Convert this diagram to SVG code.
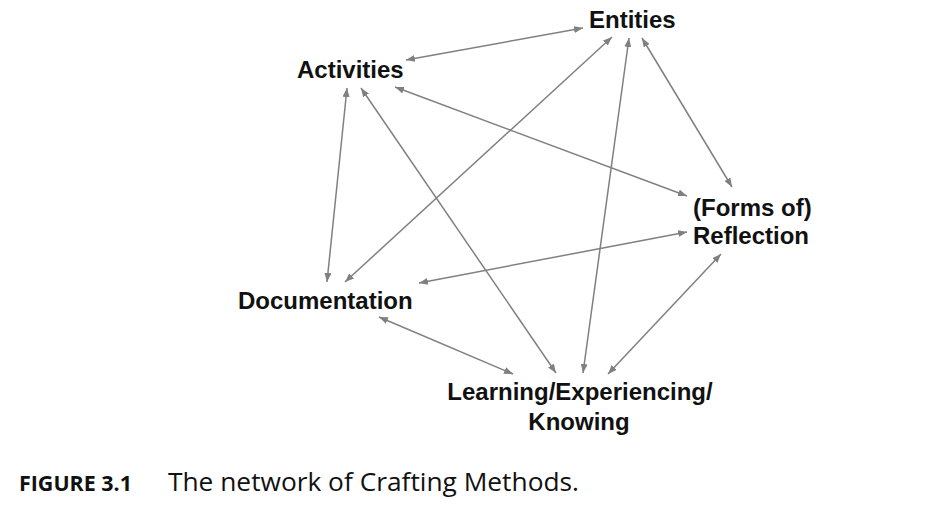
<svg xmlns="http://www.w3.org/2000/svg" width="928" height="520" viewBox="0 0 928 520">
  <style>
    .lbl { font-family: "Liberation Sans", Arial, sans-serif; font-weight: bold; font-size: 24px; fill: #111; }
    .edge { stroke: #808080; stroke-width: 1.5; fill: none; marker-start: url(#ah); marker-end: url(#ah); }
    .capb { font-family: "Open Sans", "Noto Sans", sans-serif; font-weight: bold; font-size: 21px; fill: #111; }
    .cap { font-family: "Open Sans", "Noto Sans", sans-serif; font-size: 26px; fill: #111; }
  </style>
  <defs>
    <marker id="ah" viewBox="0 0 9 7" refX="9" refY="3.5" markerWidth="9" markerHeight="7" markerUnits="userSpaceOnUse" orient="auto-start-reverse">
      <path d="M0,0 L9,3.5 L0,7 z" fill="#808080"/>
    </marker>
  </defs>
  <rect width="928" height="520" fill="#fff"/>
  <g id="connectors">
    <line class="edge" x1="406" y1="60" x2="583" y2="28"/>
    <line class="edge" x1="395" y1="87" x2="687" y2="196"/>
    <line class="edge" x1="347" y1="88" x2="327" y2="282"/>
    <line class="edge" x1="361" y1="88" x2="556" y2="373"/>
    <line class="edge" x1="612" y1="37" x2="345" y2="282"/>
    <line class="edge" x1="629" y1="38" x2="583" y2="373"/>
    <line class="edge" x1="642" y1="38" x2="732" y2="187"/>
    <line class="edge" x1="419" y1="283" x2="687" y2="232"/>
    <line class="edge" x1="379" y1="317" x2="513" y2="374"/>
    <line class="edge" x1="721" y1="254" x2="608" y2="374"/>
  </g>
  <g id="entities"><text class="lbl" x="589" y="28">Entities</text></g>
  <g id="activities"><text class="lbl" x="297" y="78">Activities</text></g>
  <g id="reflection">
    <text class="lbl" x="693" y="216">(Forms of)</text>
    <text class="lbl" x="693" y="244">Reflection</text>
  </g>
  <g id="documentation"><text class="lbl" x="238" y="309">Documentation</text></g>
  <g id="learning">
    <text class="lbl" x="580" y="400" text-anchor="middle">Learning/Experiencing/</text>
    <text class="lbl" x="579" y="430" text-anchor="middle">Knowing</text>
  </g>
  <g id="caption">
    <text class="capb" x="19" y="491" textLength="113" lengthAdjust="spacingAndGlyphs">FIGURE 3.1</text>
    <text class="cap" x="168" y="491" textLength="411" lengthAdjust="spacingAndGlyphs">The network of Crafting Methods.</text>
  </g>
</svg>
